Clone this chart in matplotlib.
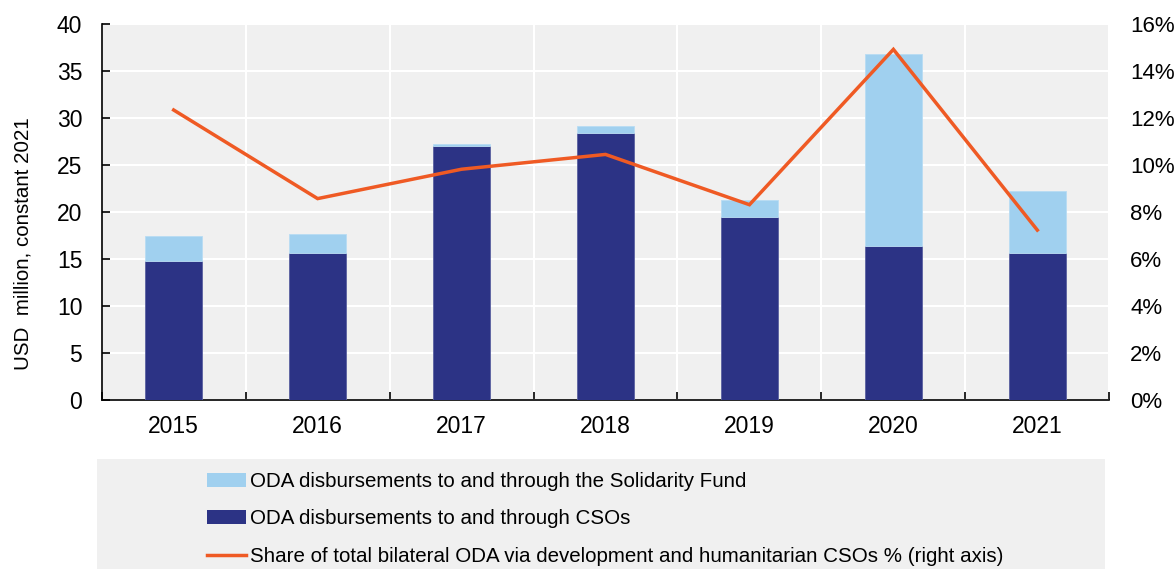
import matplotlib
matplotlib.use("Agg")
import matplotlib.pyplot as plt
from matplotlib.patches import Rectangle, Patch
from matplotlib.lines import Line2D
from matplotlib.ticker import FixedLocator
import numpy as np

plt.rcParams['font.family'] = ['Liberation Sans', 'DejaVu Sans']
narrow = ['Liberation Sans Narrow', 'Liberation Sans', 'DejaVu Sans']

years = ['2015', '2016', '2017', '2018', '2019', '2020', '2021']
cso = [14.8, 15.6, 27.0, 28.4, 19.5, 16.4, 15.6]
solidarity_fund = [2.6, 2.1, 0.2, 0.8, 1.8, 20.4, 6.6]
share_pct = [12.34, 8.57, 9.82, 10.45, 8.31, 14.92, 7.23]

series_labels = [
    'ODA disbursements to and through the Solidarity Fund',
    'ODA disbursements to and through CSOs',
    'Share of total bilateral ODA via development and humanitarian CSOs % (right axis)',
]

c_light = '#a0d0ef'
c_navy = '#2c3385'
c_orange = '#ef5a24'
c_bg = '#f0f0f0'

W, H = 1174, 569
fig = plt.figure(figsize=(W / 100, H / 100), dpi=100)
ax = fig.add_axes([101.7 / W, 1 - 400 / H, (1109.3 - 101.7) / W, (400 - 24) / H])
ax.set_facecolor(c_bg)

x = np.arange(len(years))
ax.bar(x, cso, width=0.4, color=c_navy, edgecolor='#5a61a0', linewidth=0.6, zorder=3)
ax.bar(x, solidarity_fund, width=0.4, bottom=cso, color=c_light, edgecolor='#b8dcf3',
       linewidth=0.6, zorder=3)

ax.set_xlim(-0.5, len(years) - 0.5)
ax.set_ylim(0, 40)
ax.set_yticks(np.arange(0, 41, 5))
ax.set_xticks(x)
ax.set_xticklabels(years, family=narrow, fontsize=16.5)
ax.set_yticklabels([f'{v:d}' for v in range(0, 41, 5)], family=narrow, fontsize=16.5)
ax.xaxis.set_minor_locator(FixedLocator(np.arange(-0.5, len(years), 1.0)))

ax.grid(axis='y', color='white', linewidth=1.5, zorder=0)
ax.grid(axis='x', which='minor', color='white', linewidth=1.5, zorder=0)
ax.set_axisbelow(True)

for side in ['top', 'right']:
    ax.spines[side].set_visible(False)
for side in ['left', 'bottom']:
    ax.spines[side].set_color('black')
    ax.spines[side].set_linewidth(1.2)

ax.tick_params(axis='x', which='major', length=0, pad=11)
ax.tick_params(axis='x', which='minor', direction='in', length=6, width=1.2, color='black')
ax.tick_params(axis='y', direction='in', length=6, width=1.2, pad=14)

ax.set_ylabel('USD  million, constant 2021', family=narrow, fontsize=14.8)
ax.yaxis.set_label_coords(-0.069, 0.415)

ax2 = ax.twinx()
ax2.plot(x, share_pct, color=c_orange, linewidth=2.5, zorder=5, solid_joinstyle='miter')
ax2.set_ylim(0, 16)
ax2.set_yticks(np.arange(0, 17, 2))
ax2.set_yticklabels([f'{v:d}%' for v in range(0, 17, 2)], family=narrow, fontsize=16)
ax2.tick_params(axis='y', length=0, pad=15)
for side in ['top', 'right', 'left', 'bottom']:
    ax2.spines[side].set_visible(False)

# Legend panel
fig.patches.append(Rectangle((97 / W, 0), (1105 - 97) / W, (569 - 459) / H,
                             transform=fig.transFigure, facecolor=c_bg,
                             edgecolor='none', zorder=0))
handles = [
    Patch(facecolor=c_light, edgecolor='none'),
    Patch(facecolor=c_navy, edgecolor='none'),
    Line2D([0], [0], color=c_orange, linewidth=2.5),
]
fig.legend(handles, series_labels, loc='upper left',
           bbox_to_anchor=(207 / W, 1 - 472 / H), frameon=False,
           fontsize=14.8, handlelength=1.9, handleheight=0.65, handletextpad=0.2,
           labelspacing=0.9, borderaxespad=0, borderpad=0)

fig.savefig('out.png', dpi=100)
